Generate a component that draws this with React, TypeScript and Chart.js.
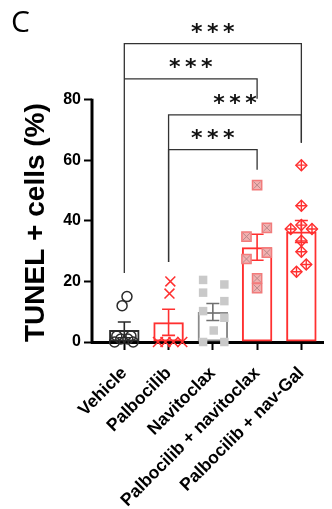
import React, { useEffect, useRef } from "react";
import { Chart, registerables } from "chart.js";

Chart.register(...registerables);

const categories = [
  "Vehicle",
  "Palbocilib",
  "Navitoclax",
  "Palbocilib + navitoclax",
  "Palbocilib + nav-Gal",
];
const barMeans = [4.0, 6.5, 9.9, 31.3, 36.5];
const barSems = [2.6, 4.3, 2.8, 4.3, 3.6];
const yTicks = [0, 20, 40, 60, 80];

const vehicleValues = [0, 0, 1, 1, 2, 2, 12, 15];
const vehicleJitter = [-0.22, 0.2, -0.08, 0.08, -0.17, 0.15, -0.05, 0.06];
const palbociclibValues = [0, 0, 0, 0, 16, 20];
const palbociclibJitter = [-0.24, -0.07, 0.11, 0.31, 0.02, 0.04];
const navitoclaxValues = [20.5, 16.3, 10.2, 0, 19, 13.5, 8, 0, 3.8];
const navitoclaxJitter = [-0.22, -0.22, -0.22, -0.22, 0.26, 0.26, 0.26, 0.26, 0.02];
const comboValues = [51.8, 37.7, 34.8, 29.5, 27.4, 21, 17.8];
const comboJitter = [0, 0.22, -0.24, 0.22, -0.24, 0, 0];
const galValues = [58.4, 45, 38.6, 37.3, 37.3, 33.4, 29.8, 25.6, 23.2];
const galJitter = [0, 0, 0, -0.24, 0.24, 0, 0, 0.11, -0.11];

// significance brackets (y in data units)
const comparisons = [
  { from: 0, to: 4, level: 98.5, leftEnd: 22.8, rightEnd: 65.8, label: "***" },
  { from: 0, to: 3, level: 86.9, leftEnd: 86.9, rightEnd: 80.3, label: "***" },
  { from: 1, to: 4, level: 75.0, leftEnd: 26.4, rightEnd: 65.8, label: "***" },
  { from: 1, to: 3, level: 63.5, leftEnd: 26.4, rightEnd: 56.9, label: "***" },
];

const FONT = "'Liberation Sans', Arial, sans-serif";
const RED = "#ff3030";
const DARK = "#2a2a2a";
const GRAY_LINE = "#8a8a8a";
const barColors = [DARK, RED, GRAY_LINE, RED, RED];
const errColors = [DARK, RED, "#707070", RED, RED];

const pts = (group: number, values: number[], jitter: number[]) =>
  values.map((v, i) => ({ x: group + jitter[i], y: v }));

const annotPlugin = {
  id: "annot",
  afterDatasetDraw(chart: any, args: any) {
    if (args.index !== 0) return;
    const { ctx } = chart;
    const xs = chart.scales.x;
    const ys = chart.scales.y;
    ctx.save();
    barMeans.forEach((m, i) => {
      const x = xs.getPixelForValue(i);
      const yt = ys.getPixelForValue(m + barSems[i]);
      const yb = ys.getPixelForValue(Math.max(0, m - barSems[i]));
      ctx.strokeStyle = errColors[i];
      ctx.lineWidth = 1.6;
      ctx.beginPath();
      ctx.moveTo(x, yt);
      ctx.lineTo(x, yb);
      ctx.moveTo(x - 6.5, yt);
      ctx.lineTo(x + 6.5, yt);
      ctx.moveTo(x - 6.5, yb);
      ctx.lineTo(x + 6.5, yb);
      ctx.stroke();
    });
    ctx.restore();
  },
  afterDraw(chart: any) {
    const { ctx, chartArea } = chart;
    const xs = chart.scales.x;
    const ys = chart.scales.y;
    ctx.save();
    // y axis line 0..80
    ctx.strokeStyle = "#000";
    ctx.lineWidth = 3;
    ctx.beginPath();
    ctx.moveTo(chartArea.left, ys.getPixelForValue(0) + 1.5);
    ctx.lineTo(chartArea.left, ys.getPixelForValue(yTicks[yTicks.length - 1]) - 1);
    ctx.stroke();

    // brackets
    ctx.strokeStyle = "#333";
    ctx.lineWidth = 1.3;
    comparisons.forEach((c) => {
      const x1 = xs.getPixelForValue(c.from);
      const x2 = xs.getPixelForValue(c.to);
      const yl = ys.getPixelForValue(c.level);
      ctx.beginPath();
      ctx.moveTo(x1, ys.getPixelForValue(c.leftEnd));
      ctx.lineTo(x1, yl);
      ctx.lineTo(x2, yl);
      ctx.lineTo(x2, ys.getPixelForValue(c.rightEnd));
      ctx.stroke();
      // stars
      ctx.fillStyle = "#111";
      ctx.font = "bold 22px 'DejaVu Sans', sans-serif";
      ctx.textAlign = "center";
      ctx.textBaseline = "alphabetic";
      const mid = (x1 + x2) / 2;
      const stars = c.label.split("");
      stars.forEach((s, k) => {
        const m = ctx.measureText(s);
        const cy = yl - 16;
        const off = (m.actualBoundingBoxAscent - m.actualBoundingBoxDescent) / 2;
        ctx.fillText(s, mid + (k - (stars.length - 1) / 2) * 16, cy + off);
      });
    });

    // panel letter
    ctx.fillStyle = "#000";
    ctx.font = "30px 'Open Sans', sans-serif";
    ctx.textAlign = "left";
    ctx.textBaseline = "alphabetic";
    ctx.fillText("C", 11, 32);
    ctx.restore();
  },
};

export default function App() {
  const ref = useRef<HTMLCanvasElement | null>(null);

  useEffect(() => {
    if (!ref.current) return;
    const chart = new Chart(ref.current, {
      type: "bar",
      data: {
        datasets: [
          {
            type: "bar",
            data: barMeans.map((m, i) => ({ x: i, y: m })) as any,
            backgroundColor: "rgba(255,255,255,0)",
            borderColor: barColors,
            borderWidth: 2,
            borderSkipped: false,
            categoryPercentage: 0.8,
            barPercentage: 0.86,
            order: 10,
          } as any,
          {
            type: "scatter",
            data: pts(0, vehicleValues, vehicleJitter),
            pointStyle: "circle",
            pointRadius: 5,
            pointBorderWidth: 1.5,
            borderColor: DARK,
            backgroundColor: "rgba(255,255,255,0)",
            clip: false,
            order: 1,
          },
          {
            type: "scatter",
            data: pts(1, palbociclibValues, palbociclibJitter),
            pointStyle: "crossRot",
            pointRadius: 7,
            pointBorderWidth: 1.5,
            borderColor: RED,
            backgroundColor: RED,
            clip: false,
            order: 1,
          },
          {
            type: "scatter",
            data: pts(2, navitoclaxValues, navitoclaxJitter),
            pointStyle: "rect",
            pointRadius: 6,
            pointBorderWidth: 0,
            borderColor: "#c9c9c9",
            backgroundColor: "#c9c9c9",
            clip: false,
            order: 1,
          },
          {
            type: "scatter",
            data: pts(3, comboValues, comboJitter),
            pointStyle: "rect",
            pointRadius: 6.5,
            pointBorderWidth: 1.5,
            borderColor: "#f27b7b",
            backgroundColor: "#f2b0b0",
            clip: false,
            order: 1,
          },
          {
            type: "scatter",
            data: pts(3, comboValues, comboJitter),
            pointStyle: "crossRot",
            pointRadius: 5,
            pointBorderWidth: 1,
            borderColor: "#b98a8a",
            backgroundColor: "#b98a8a",
            clip: false,
            order: 0,
          },
          {
            type: "scatter",
            data: pts(4, galValues, galJitter),
            pointStyle: "rectRot",
            pointRadius: 5.5,
            pointBorderWidth: 1.4,
            borderColor: RED,
            backgroundColor: "rgba(255,255,255,0)",
            clip: false,
            order: 1,
          },
          {
            type: "scatter",
            data: pts(4, galValues, galJitter),
            pointStyle: "cross",
            pointRadius: 5.5,
            pointBorderWidth: 1.4,
            borderColor: RED,
            backgroundColor: RED,
            clip: false,
            order: 0,
          },
        ],
      },
      options: {
        animation: false,
        responsive: false,
        maintainAspectRatio: false,
        layout: { padding: { left: 0, right: 4, top: 21, bottom: 0 } },
        plugins: {
          legend: { display: false },
          tooltip: { enabled: false },
        },
        scales: {
          x: {
            type: "linear",
            offset: false,
            min: -0.73,
            max: 4.5,
            afterBuildTicks: (s: any) => {
              s.ticks = categories.map((_, i) => ({ value: i }));
            },
            afterFit: (s: any) => {
              s.height = 167;
            },
            ticks: {
              callback: (v: any) => categories[v as number] ?? "",
              autoSkip: false,
              maxRotation: 45,
              minRotation: 45,
              color: "#000",
              padding: 13,
              font: { family: FONT, size: 17.5, weight: "bold" },
            },
            grid: {
              offset: false,
              drawOnChartArea: false,
              drawTicks: true,
              tickLength: 8,
              tickWidth: 2,
              tickColor: "#000",
            },
            border: { display: true, width: 3, color: "#000" },
          },
          y: {
            type: "linear",
            min: 0,
            max: 106,
            afterBuildTicks: (s: any) => {
              s.ticks = yTicks.map((v) => ({ value: v }));
            },
            afterFit: (s: any) => {
              s.width = 92;
            },
            ticks: {
              color: "#000",
              padding: 3,
              font: { family: FONT, size: 16, weight: "bold" },
            },
            grid: {
              drawOnChartArea: false,
              drawTicks: true,
              tickLength: 8,
              tickWidth: 2,
              tickColor: "#000",
            },
            border: { display: false },
            title: {
              display: true,
              text: "TUNEL + cells (%)",
              align: "start",
              color: "#000",
              font: { family: FONT, size: 28, weight: "bold" },
              padding: { top: 19, bottom: 0 },
            },
          },
        },
      } as any,
      plugins: [annotPlugin as any],
    });
    return () => chart.destroy();
  }, []);

  return (
    <div style={{ position: "fixed", left: 0, top: 0, width: 332, height: 509, background: "#fff" }}>
      <canvas ref={ref} width={332} height={509} style={{ width: 332, height: 509 }} />
    </div>
  );
}
